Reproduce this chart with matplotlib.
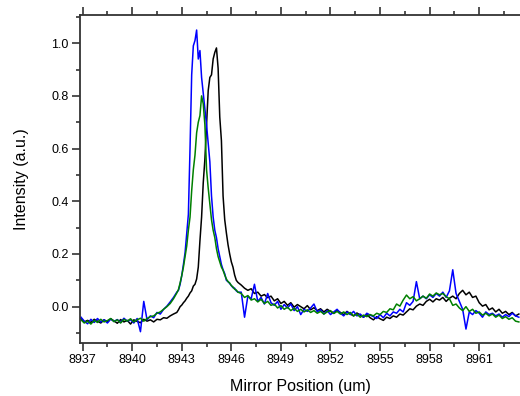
import numpy as np
import matplotlib
matplotlib.use("Agg")
import matplotlib.pyplot as plt
from matplotlib.ticker import MultipleLocator

plt.rcParams['font.family'] = ['Liberation Sans', 'DejaVu Sans']

# x grids: coarse left, fine around the main peak, coarse right
x_left = 8936.9 + 0.2 * np.arange(30)
x_peak = 8942.8 + 0.1 * np.arange(37)
x_right = 8946.6 + 0.2 * np.arange(85)

# black trace
black_left = [-0.045, -0.058, -0.052, -0.060, -0.048, -0.055, -0.062, -0.050, -0.057, -0.046,
              -0.054, -0.063, -0.049, -0.058, -0.052, -0.066, -0.050, -0.056, -0.061, -0.048,
              -0.055, -0.050, -0.058, -0.048, -0.050, -0.042, -0.044, -0.035, -0.028, -0.022]
black_peak = [-0.012, 0.000, 0.006, 0.015, 0.022, 0.032, 0.040, 0.052, 0.060, 0.078,
              0.085, 0.105, 0.150, 0.250, 0.340, 0.470, 0.560, 0.690, 0.820, 0.870,
              0.880, 0.940, 0.965, 0.982, 0.905, 0.720, 0.630, 0.420, 0.330, 0.280,
              0.235, 0.200, 0.170, 0.150, 0.120, 0.100, 0.092]
black_right = [0.082, 0.070, 0.062, 0.068, 0.050, 0.055, 0.040, 0.046, 0.034, 0.040,
               0.022, 0.030, 0.012, 0.020, 0.005, 0.015, -0.002, 0.008, 0.000, -0.008,
               0.004, -0.012, -0.004, -0.015, -0.008, -0.020, -0.010, -0.018, -0.025, -0.014,
               -0.022, -0.030, -0.018, -0.028, -0.035, -0.024, -0.032, -0.040, -0.030, -0.042,
               -0.050, -0.038, -0.046, -0.052, -0.040, -0.045, -0.035, -0.040, -0.028, -0.032,
               -0.020, -0.008, -0.012, 0.002, 0.010, 0.005, 0.020, 0.028, 0.018, 0.030,
               0.025, 0.035, 0.020, 0.032, 0.040, 0.030, 0.050, 0.062, 0.045, 0.055,
               0.035, 0.040, 0.015, 0.002, 0.008, -0.012, -0.005, -0.020, -0.010, -0.025,
               -0.018, -0.030, -0.022, -0.035, -0.028]

# blue trace
blue_left = [-0.040, -0.055, -0.065, -0.048, -0.060, -0.045, -0.058, -0.050, -0.062, -0.047,
             -0.056, -0.049, -0.060, -0.044, -0.055, -0.050, -0.062, -0.045, -0.095, 0.020,
             -0.050, -0.035, -0.042, -0.022, -0.028, -0.010, 0.002, 0.018, 0.035, 0.055]
blue_peak = [0.062, 0.085, 0.118, 0.160, 0.205, 0.280, 0.350, 0.600, 0.880, 0.990,
             1.010, 1.050, 0.940, 0.972, 0.870, 0.810, 0.750, 0.690, 0.620, 0.550,
             0.420, 0.340, 0.290, 0.262, 0.220, 0.190, 0.160, 0.140, 0.125, 0.100,
             0.095, 0.088, 0.080, 0.072, 0.070, 0.060, 0.055]
blue_right = [0.055, -0.040, 0.040, 0.030, 0.085, 0.020, 0.035, 0.010, 0.050, 0.015,
              0.005, 0.020, -0.010, 0.008, -0.005, 0.010, -0.015, 0.000, -0.030, -0.010,
              -0.018, -0.005, 0.010, -0.020, -0.012, -0.028, -0.015, -0.030, -0.020, -0.010,
              -0.025, -0.035, -0.020, -0.030, -0.018, -0.035, -0.028, -0.040, -0.025, -0.032,
              -0.038, -0.045, -0.030, -0.042, -0.025, -0.035, -0.020, -0.025, -0.010, -0.020,
              0.015, 0.005, 0.020, 0.095, 0.030, 0.040, 0.030, 0.045, 0.035, 0.050,
              0.040, 0.055, 0.035, 0.060, 0.140, 0.050, 0.020, -0.010, -0.085, -0.020,
              -0.030, -0.015, -0.025, -0.040, -0.020, -0.030, -0.025, -0.035, -0.028, -0.040,
              -0.030, -0.038, -0.025, -0.035, -0.040]

# green trace
green_left = [-0.050, -0.062, -0.055, -0.066, -0.052, -0.060, -0.048, -0.058, -0.053, -0.045,
              -0.057, -0.050, -0.062, -0.048, -0.055, -0.046, -0.058, -0.050, -0.044, -0.055,
              -0.045, -0.038, -0.035, -0.025, -0.020, -0.010, 0.000, 0.012, 0.030, 0.052]
green_peak = [0.065, 0.090, 0.118, 0.150, 0.190, 0.230, 0.290, 0.340, 0.440, 0.520,
              0.575, 0.660, 0.700, 0.725, 0.800, 0.770, 0.690, 0.520, 0.450, 0.390,
              0.330, 0.290, 0.262, 0.220, 0.190, 0.170, 0.150, 0.138, 0.120, 0.105,
              0.095, 0.090, 0.080, 0.075, 0.066, 0.063, 0.055]
green_right = [0.050, 0.035, 0.042, 0.025, 0.030, 0.018, 0.028, 0.012, 0.020, 0.005,
               0.010, -0.005, 0.004, -0.010, -0.002, -0.015, -0.006, -0.018, -0.010, -0.020,
               -0.012, -0.022, -0.015, -0.025, -0.018, -0.028, -0.020, -0.015, -0.026, -0.018,
               -0.028, -0.020, -0.030, -0.022, -0.035, -0.028, -0.040, -0.032, -0.038, -0.030,
               -0.035, -0.025, -0.030, -0.018, -0.022, -0.008, -0.012, 0.010, 0.002, 0.025,
               0.044, 0.030, 0.038, 0.022, 0.030, 0.040, 0.032, 0.048, 0.040, 0.052,
               0.045, 0.050, 0.038, 0.030, 0.005, 0.010, -0.005, -0.015, 0.000, -0.018,
               -0.010, -0.025, -0.020, -0.032, -0.025, -0.035, -0.028, -0.040, -0.032, -0.045,
               -0.038, -0.048, -0.042, -0.055, -0.058]

x_ticks = [8937, 8940, 8943, 8946, 8949, 8952, 8955, 8958, 8961]
y_ticks = [0.0, 0.2, 0.4, 0.6, 0.8, 1.0]


def join(left, peak, right):
    return np.concatenate([left, peak, right])


def plotTraces():
    x = np.concatenate([x_left, x_peak, x_right])
    fig = plt.figure(figsize=(5.2, 3.96), dpi=100)
    ax = fig.add_axes([0.1538, 0.1338, 0.8462, 0.8283])

    ax.plot(x, join(black_left, black_peak, black_right), color='black', lw=1.1)
    ax.plot(x, join(blue_left, blue_peak, blue_right), color='#0000ff', lw=1.1)
    ax.plot(x, join(green_left, green_peak, green_right), color='#008000', lw=1.1)

    ax.set_xlim(8936.84, 8963.47)
    ax.set_ylim(-0.138, 1.107)
    ax.set_xticks(x_ticks)
    ax.set_yticks(y_ticks)
    ax.set_yticklabels(['%.1f' % v for v in y_ticks])
    ax.xaxis.set_minor_locator(MultipleLocator(1.5))
    ax.yaxis.set_minor_locator(MultipleLocator(0.1))

    ax.spines['right'].set_visible(False)
    for s in ['left', 'bottom', 'top']:
        ax.spines[s].set_linewidth(1.3)
        ax.spines[s].set_color('#333333')
    ax.tick_params(which='both', direction='out', top=True, right=False,
                   labelsize=9, width=1.1, color='#222222')
    ax.tick_params(which='major', length=6, pad=2)
    ax.tick_params(which='minor', length=3)

    ax.set_xlabel('Mirror Position (um)', fontsize=11.5, labelpad=9)
    ax.set_ylabel('Intensity (a.u.)', fontsize=11.5, labelpad=16)
    fig.savefig('out.png', dpi=100)


if __name__ == "__main__":
    assert len(black_right) == len(blue_right) == len(green_right) == 85
    assert len(black_peak) == len(blue_peak) == len(green_peak) == 37
    plotTraces()
